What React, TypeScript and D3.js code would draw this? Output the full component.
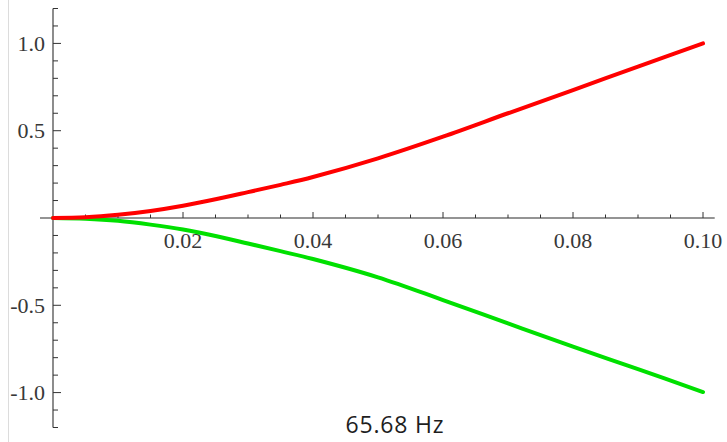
import {useEffect, useRef} from 'react';
import * as d3 from 'd3';

// time (s) samples and the two traces
const times = [0, 0.005, 0.01, 0.015, 0.02, 0.025, 0.03, 0.035, 0.04, 0.05, 0.06, 0.07, 0.08, 0.09, 0.1];
const redValues = [0, 0.004, 0.018, 0.04, 0.07, 0.107, 0.148, 0.19, 0.235, 0.342, 0.466, 0.6, 0.733, 0.867, 1.0];
const greenValues = [0, -0.004, -0.016, -0.038, -0.066, -0.103, -0.146, -0.19, -0.235, -0.34, -0.47, -0.604, -0.737, -0.866, -0.997];

const xTickLabels = [0.02, 0.04, 0.06, 0.08, 0.1];
const yTickLabels = [-1.0, -0.5, 0.5, 1.0];
const caption = '65.68 Hz';

export default function App() {
    const ref = useRef<SVGSVGElement>(null);

    useEffect(() => {
        const width = 727;
        const height = 442;
        const svg = d3.select(ref.current);
        svg.selectAll('*').remove();
        svg.attr('width', width).attr('height', height).attr('viewBox', `0 0 ${width} ${height}`);

        const x = d3.scaleLinear().domain([0, 0.1]).range([53, 703]);
        const y = d3.scaleLinear().domain([-1.2, 1.2]).range([427.5, 8.5]);

        // faint frame edge on the left
        svg.append('line')
            .attr('x1', 8.5).attr('x2', 8.5)
            .attr('y1', 0).attr('y2', height)
            .attr('stroke', '#dcdcdc').attr('stroke-width', 1);

        const axisColor = '#707070';
        const textColor = '#383838';
        const serif = '"Liberation Serif", "Times New Roman", serif';

        // x axis
        const gx = svg.append('g');
        gx.append('line')
            .attr('x1', x(-0.002)).attr('x2', x(0.1018))
            .attr('y1', y(0)).attr('y2', y(0))
            .attr('stroke', axisColor).attr('stroke-width', 1.6);
        const xMinor = d3.range(0.005, 0.1001, 0.005);
        gx.selectAll('.xtick')
            .data(xMinor)
            .enter()
            .append('line')
            .attr('x1', (d) => x(d)).attr('x2', (d) => x(d))
            .attr('y1', y(0))
            .attr('y2', (d) => y(0) - (Math.abs(Math.round(d * 1000) % 20) === 0 ? 6 : 3.5))
            .attr('stroke', '#333').attr('stroke-width', 1);
        gx.selectAll('.xlabel')
            .data(xTickLabels)
            .enter()
            .append('text')
            .attr('x', (d) => x(d))
            .attr('y', y(0) + 30)
            .attr('text-anchor', 'middle')
            .attr('fill', textColor)
            .attr('font-family', serif)
            .attr('font-size', '22px')
            .text((d) => d.toFixed(2));

        // y axis
        const gy = svg.append('g');
        gy.append('line')
            .attr('x1', x(0)).attr('x2', x(0))
            .attr('y1', y(1.2)).attr('y2', y(-1.2))
            .attr('stroke', axisColor).attr('stroke-width', 1.6);
        const yMinor = d3.range(-12, 13).map((i) => i / 10).filter((d) => Math.abs(d) > 1e-9);
        gy.selectAll('.ytick')
            .data(yMinor)
            .enter()
            .append('line')
            .attr('x1', x(0))
            .attr('x2', (d) => x(0) + (Math.round(d * 10) % 5 === 0 ? 8 : 5))
            .attr('y1', (d) => y(d)).attr('y2', (d) => y(d))
            .attr('stroke', '#333').attr('stroke-width', 1);
        gy.selectAll('.ylabel')
            .data(yTickLabels)
            .enter()
            .append('text')
            .attr('x', x(0) - 8)
            .attr('y', (d) => y(d))
            .attr('dy', '0.35em')
            .attr('text-anchor', 'end')
            .attr('fill', textColor)
            .attr('font-family', serif)
            .attr('font-size', '22px')
            .text((d) => d.toFixed(1));

        // traces
        const line = d3.line<number>()
            .x((_, i) => x(times[i]))
            .curve(d3.curveCatmullRom.alpha(0.5));

        svg.append('path')
            .datum(greenValues)
            .attr('d', line.y((d) => y(d)))
            .attr('fill', 'none')
            .attr('stroke', '#00e000')
            .attr('stroke-width', 4)
            .attr('stroke-linecap', 'round');

        svg.append('path')
            .datum(redValues)
            .attr('d', line.y((d) => y(d)))
            .attr('fill', 'none')
            .attr('stroke', '#ff0000')
            .attr('stroke-width', 4)
            .attr('stroke-linecap', 'round');

        svg.append('text')
            .attr('x', 395)
            .attr('y', 433)
            .attr('text-anchor', 'middle')
            .attr('fill', '#1e1e1e')
            .attr('font-family', '"Open Sans", "Noto Sans", sans-serif')
            .attr('font-size', '23px')
            .attr('letter-spacing', '0.8px')
            .text(caption);
    }, []);

    return <svg ref={ref} style={{position: 'absolute', left: 0, top: 0}}></svg>;
}
